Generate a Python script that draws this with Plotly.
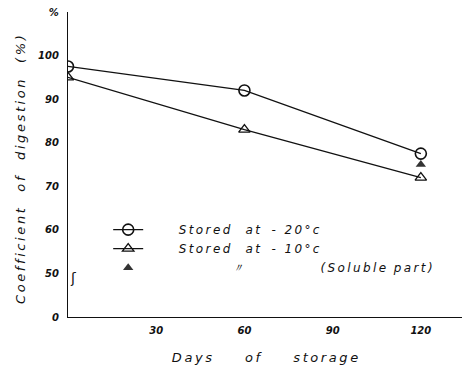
import plotly.graph_objects as go

# ---- data ----
days = [0, 60, 120]
stored_minus20 = [97.5, 92, 77.5]
stored_minus10 = [95, 83, 72]
soluble_days = [120]
soluble_minus10 = [75]

# broken y axis: real value 0 is drawn at display position 40
y_tick_vals = [40, 50, 60, 70, 80, 90, 100, 110]
y_tick_text = ["0", "50", "60", "70", "80", "90", "100", "%"]
x_tick_vals = [30, 60, 90, 120]
x_tick_text = ["30", "60", "90", "120"]

NB = "\u00a0"
TH = "\u2009"


def spaced(word):
    return TH.join(word)


name20 = NB * 8 + spaced("Stored") + NB * 4 + spaced("at") + NB * 3 + spaced("- 20°c")
name10 = NB * 8 + spaced("Stored") + NB * 4 + spaced("at") + NB * 3 + spaced("- 10°c")
name_sol = NB * 22 + "〃" + NB * 20 + spaced("(Soluble") + NB * 2 + spaced("part)")

FONT = "DejaVu Sans"

fig = go.Figure()
fig.add_trace(go.Scatter(
    x=days, y=stored_minus20, mode="lines+markers", name=name20,
    line=dict(color="#111", width=1.3),
    marker=dict(symbol="circle-open", size=11, color="#111", line=dict(width=1.6)),
))
fig.add_trace(go.Scatter(
    x=days, y=stored_minus10, mode="lines+markers", name=name10,
    line=dict(color="#111", width=1.3),
    marker=dict(symbol="triangle-up-open", size=10, color="#111", line=dict(width=1.3)),
))
fig.add_trace(go.Scatter(
    x=soluble_days, y=soluble_minus10, mode="markers", name=name_sol,
    marker=dict(symbol="triangle-up", size=9, color="#333"),
))

fig.update_layout(
    width=463, height=369, autosize=False,
    margin=dict(l=68, r=1, t=12, b=52),
    paper_bgcolor="white", plot_bgcolor="white",
    font=dict(family=FONT, color="#111", size=11),
    showlegend=True,
    legend=dict(
        x=0.102, y=0.334, xanchor="left", yanchor="top",
        bgcolor="rgba(0,0,0,0)", tracegroupgap=0,
        font=dict(family=FONT, size=12, style="italic", color="#111"),
        itemwidth=30,
    ),
    xaxis=dict(
        range=[0, 134], tickvals=x_tick_vals, ticktext=x_tick_text,
        showgrid=False, zeroline=False, showline=True, linecolor="#111", linewidth=1.3,
        ticks="", ticklabelstandoff=4,
        tickfont=dict(family=FONT, size=10, weight="bold", style="italic", color="#111"),
        title=dict(text=spaced("Days") + NB * 8 + spaced("of") + NB * 8 + spaced("storage"),
                   font=dict(family=FONT, size=13, style="italic", color="#111"), standoff=17),
    ),
    yaxis=dict(
        range=[40, 110], tickvals=y_tick_vals, ticktext=y_tick_text,
        showgrid=False, zeroline=False, showline=True, linecolor="#111", linewidth=1.3,
        ticks="", ticklabelstandoff=6,
        tickfont=dict(family=FONT, size=10, weight="bold", style="italic", color="#111"),
    ),
    annotations=[
        dict(text=spaced("Coefficient") + NB * 4 + spaced("of") + NB * 4 + spaced("digestion")
             + NB * 4 + spaced("(%)"),
             textangle=-90, xref="paper", yref="paper", x=-0.122, y=0.485,
             xanchor="center", yanchor="middle", showarrow=False,
             font=dict(family=FONT, size=13, style="italic", color="#111")),
        dict(text="ʃ", xref="paper", yref="y", x=0, y=49, showarrow=False,
             font=dict(family=FONT, size=14, color="#111"), bgcolor="white"),
    ],
)

fig.write_html("out.html", config={"displayModeBar": False},
               post_script="document.body.style.margin='0';")
